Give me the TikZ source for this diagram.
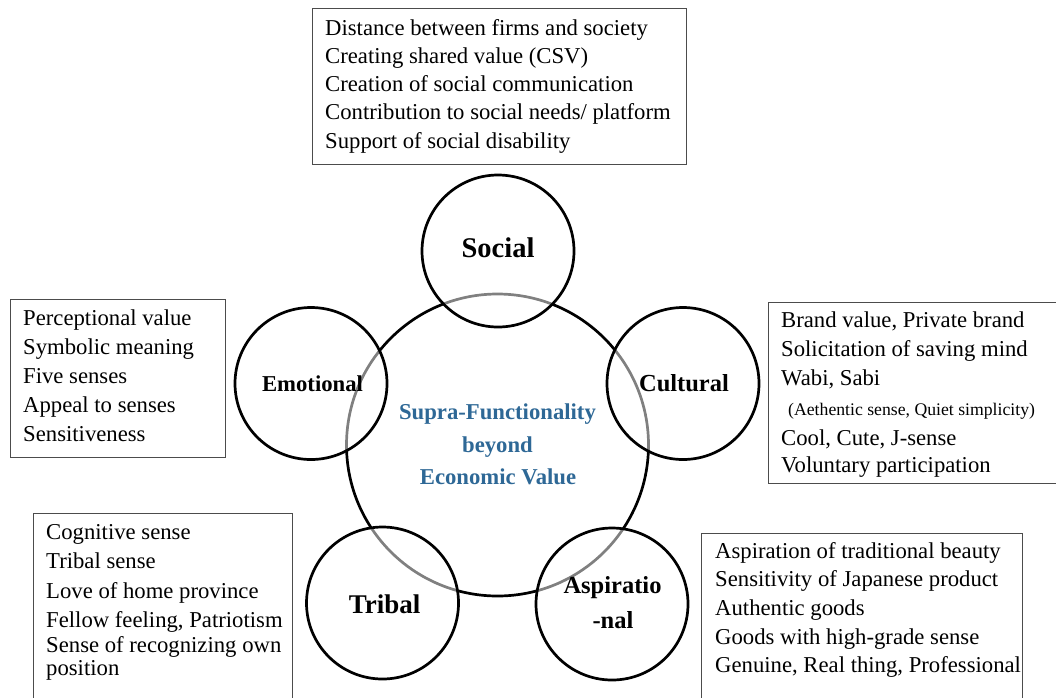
\documentclass[tikz,border=0pt]{standalone}
\usepackage{fontspec}
\setmainfont{Liberation Serif}
\definecolor{centreblue}{RGB}{46,104,150}
\begin{document}
\begin{tikzpicture}[x=1pt,y=-1pt,
  ring/.style={circle, draw=black, line width=2.7pt, fill=white, fill opacity=0.5, text opacity=1, minimum size=152pt, inner sep=0pt},
  hub/.style={circle, draw=black, line width=2.7pt, minimum size=302pt, inner sep=0pt},
  infobox/.style={draw=black!70, line width=1.3pt, anchor=north west, inner sep=0pt},
  item/.style={anchor=base west, inner sep=0pt, font=\fontsize{22.7}{28}\selectfont},
  smallitem/.style={anchor=base west, inner sep=0pt, font=\fontsize{17.7}{22}\selectfont},
  ringlabel/.style={anchor=base, inner sep=0pt, font=\bfseries\fontsize{#1}{#1}\selectfont},
  centrelabel/.style={anchor=base, inner sep=0pt, text=centreblue, font=\bfseries\fontsize{22.7}{28}\selectfont}
]
\useasboundingbox (0,0) rectangle (1056,697);
\clip (0,0) rectangle (1056,697);

% boxes
\node[infobox, minimum width=374pt, minimum height=156pt] (socbox) at (312,8) {};
\node[infobox, minimum width=215pt, minimum height=158pt] (emobox) at (10,299) {};
\node[infobox, minimum width=259pt, minimum height=200pt] (tribox) at (33,513) {};
\node[infobox, minimum width=303pt, minimum height=181pt] (culbox) at (767.5,302) {};
\node[infobox, minimum width=321pt, minimum height=180pt] (aspbox) at (701,533) {};

% box texts
\foreach \t [count=\i from 0] in {{Distance between firms and society},{Creating shared value (CSV)},{Creation of social communication},{Contribution to social needs/ platform},{Support of social disability}}
  \node[item] (soc\i) at (325,{35+28.3*\i}) {\t};

\foreach \t [count=\i from 0] in {{Perceptional value},{Symbolic meaning},{Five senses},{Appeal to senses},{Sensitiveness}}
  \node[item] (emo\i) at (23,{325+29.2*\i}) {\t};

\node[item] (tri0) at (46,539) {Cognitive sense};
\node[item] (tri1) at (46,568) {Tribal sense};
\node[item] (tri2) at (46,598) {Love of home province};
\node[item] (tri3) at (46,627) {Fellow feeling, Patriotism};
\node[item] (tri4) at (46,652) {Sense of recognizing own};
\node[item] (tri5) at (46,675) {position};

\node[item] (cul0) at (781,327) {Brand value, Private brand};
\node[item] (cul1) at (781,356) {Solicitation of saving mind};
\node[item] (cul2) at (781,385) {Wabi, Sabi};
\node[smallitem] (cul3) at (788,415) {(Aethentic sense, Quiet simplicity)};
\node[item] (cul4) at (781,445) {Cool, Cute, J-sense};
\node[item] (cul5) at (781,472) {Voluntary participation};

\foreach \t [count=\i from 0] in {{Aspiration of traditional beauty},{Sensitivity of Japanese product},{Authentic goods},{Goods with high-grade sense},{Genuine, Real thing, Professional}}
  \node[item] (asp\i) at (715,{558+28.7*\i}) {\t};

% circles
\node[hub] (hub) at (497.5,445) {};
\node[ring] (social) at (498,251) {};
\node[ring] (emotional) at (311,383.5) {};
\node[ring] (cultural) at (683,383.5) {};
\node[ring] (tribal) at (382.5,603) {};
\node[ring] (aspirational) at (612,604) {};

% circle labels
\node[ringlabel=28.5] (socialtxt) at (498,257) {Social};
\node[ringlabel=22.7] (emotionaltxt) at (312.5,391) {Emotional};
\node[ringlabel=24.5] (culturaltxt) at (684,391) {Cultural};
\node[ringlabel=27] (tribaltxt) at (384.5,613) {Tribal};
\node[ringlabel=24.5] (asptxt1) at (612.5,593) {Aspiratio};
\node[ringlabel=24.5] (asptxt2) at (613,628) {-nal};

\node[centrelabel] (hubtxt1) at (497.5,419) {Supra-Functionality};
\node[centrelabel] (hubtxt2) at (497.5,452) {beyond};
\node[centrelabel] (hubtxt3) at (498,484) {Economic Value};
\end{tikzpicture}
\end{document}
